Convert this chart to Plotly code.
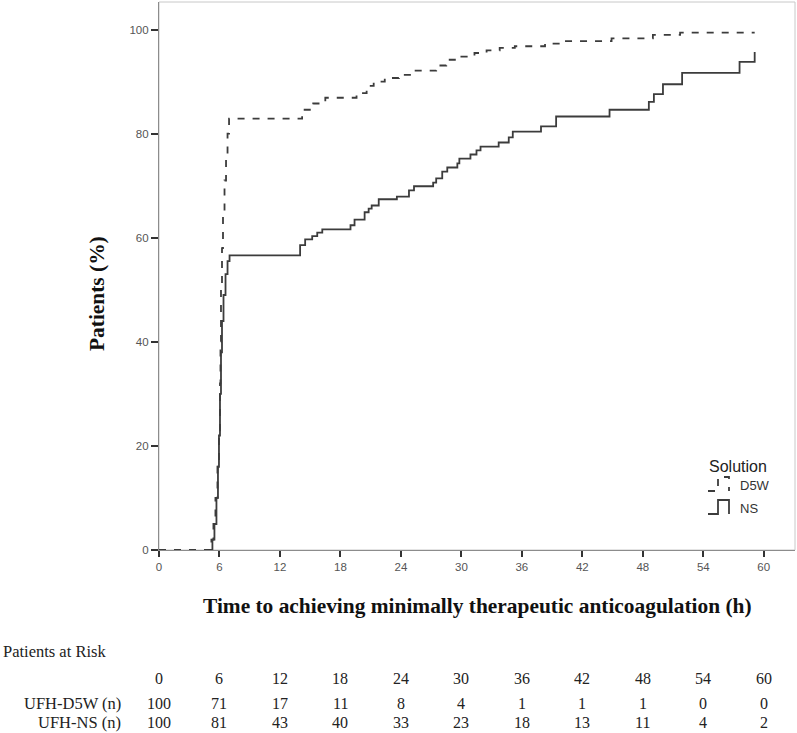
import plotly.graph_objects as go

# ---- data ----
time_d5w = [0, 4.9, 5.2, 5.4, 5.6, 5.8, 5.95, 6.05, 6.1, 6.15, 6.25, 6.35, 6.5, 6.65, 6.8, 6.95,
            14.2, 15.3, 16.5, 19.6, 20.6, 21.3, 22.4, 23.8, 25.1, 27.5, 28.5, 30.0, 31.3, 32.5,
            33.8, 35.3, 38.3, 39.8, 44.9, 49.0, 51.7, 59.1]
pct_d5w = [0, 0, 2, 5, 10, 16, 23, 32, 40, 50, 58, 65, 71, 76, 80, 82.9,
           84.6, 85.8, 86.9, 87.8, 89.2, 90.0, 90.7, 91.3, 92.1, 93.1, 94.2, 94.8, 95.5, 96.0,
           96.5, 96.8, 97.3, 97.8, 98.3, 99.0, 99.4, 99.4]

time_ns = [5.0, 5.3, 5.5, 5.7, 5.85, 5.95, 6.05, 6.15, 6.25, 6.4, 6.6, 6.8, 7.0,
           14.0, 14.5, 15.2, 15.7, 16.2, 19.0, 19.4, 20.4, 20.8, 21.1, 21.8, 23.6, 24.8, 25.3,
           27.2, 27.5, 28.1, 28.6, 29.6, 29.8, 30.9, 31.5, 31.9, 33.7, 34.7, 35.1, 37.9, 39.4,
           44.7, 48.6, 49.1, 50.0, 51.9, 57.6, 59.1]
pct_ns = [0, 2, 5, 10, 16, 22, 30, 38, 44, 49, 53, 55.5, 56.6,
          58.6, 59.7, 60.3, 61.0, 61.6, 62.4, 63.5, 64.9, 65.6, 66.2, 67.4, 67.9, 69.1, 69.9,
          70.6, 71.4, 72.7, 73.5, 74.3, 75.2, 76.0, 76.8, 77.5, 78.3, 79.3, 80.4, 81.4, 83.3,
          84.6, 86.1, 87.6, 89.5, 91.7, 93.8, 95.7]

series_names = ["D5W", "NS"]
legend_title = "Solution"
x_ticks = [0, 6, 12, 18, 24, 30, 36, 42, 48, 54, 60]
y_ticks = [0, 20, 40, 60, 80, 100]
risk_times = [0, 6, 12, 18, 24, 30, 36, 42, 48, 54, 60]
risk_d5w = [100, 71, 17, 11, 8, 4, 1, 1, 1, 0, 0]
risk_ns = [100, 81, 43, 40, 33, 23, 18, 13, 11, 4, 2]
row_labels = ["UFH-D5W (n)", "UFH-NS (n)"]

SERIF = "Times New Roman, Liberation Serif, serif"
SANS = "Arial, Liberation Sans, sans-serif"
LINE = "#3c3c3c"
DASH = "7px,8px"

# plot-area geometry in pixels (used only for layout decorations)
W, H = 797, 733
L, R, T, B = 159, 2, 2, 183
PW, PH = W - L - R, H - T - B


def px(xp):
    return (xp - L) / PW


def py(yp):
    return (H - B - yp) / PH


fig = go.Figure()
fig.add_trace(go.Scatter(x=time_d5w, y=pct_d5w, mode="lines", name=series_names[0],
                         line=dict(color=LINE, width=1.8, dash=DASH, shape="hv"),
                         showlegend=False))
fig.add_trace(go.Scatter(x=time_ns, y=pct_ns, mode="lines", name=series_names[1],
                         line=dict(color=LINE, width=1.8, shape="hv"), showlegend=False))

annotations = []
# axis titles
annotations.append(dict(text="<b>Time to achieving minimally therapeutic anticoagulation (h)</b>",
                        xref="paper", yref="paper", x=0.5, y=0, xanchor="center", yanchor="middle",
                        yshift=-56, showarrow=False, font=dict(family=SERIF, size=21.4, color="#111")))
annotations.append(dict(text="<b>Patients (%)</b>", xref="paper", yref="paper", x=0, y=0.5,
                        xanchor="center", yanchor="middle", xshift=-62, yshift=-18, textangle=-90,
                        showarrow=False, font=dict(family=SERIF, size=21.4, color="#111")))
# risk table
nfont = dict(family=SERIF, size=16, color="#222")
lfont = dict(family=SERIF, size=16.5, color="#222")
annotations.append(dict(text="Patients at Risk", xref="paper", yref="paper", x=0, y=0,
                        xanchor="left", yanchor="middle", xshift=-158, yshift=-101,
                        showarrow=False, font=lfont))
for t in risk_times:
    annotations.append(dict(text=str(t), xref="x", yref="paper", x=t, y=0, xanchor="center",
                            yanchor="middle", yshift=-128, showarrow=False, font=nfont))
for row, vals, ys in [(row_labels[0], risk_d5w, -153), (row_labels[1], risk_ns, -172)]:
    annotations.append(dict(text=row, xref="paper", yref="paper", x=0, y=0, xanchor="right",
                            yanchor="middle", xshift=-36, yshift=ys, showarrow=False, font=lfont))
    for t, v in zip(risk_times, vals):
        annotations.append(dict(text=str(v), xref="x", yref="paper", x=t, y=0, xanchor="center",
                                yanchor="middle", yshift=ys, showarrow=False, font=nfont))

# legend drawn as text + step-shaped icons (like the original)
annotations.append(dict(text=legend_title, xref="paper", yref="paper", x=px(707), y=py(466),
                        xanchor="left", yanchor="middle", showarrow=False,
                        font=dict(family=SANS, size=16, color="#222")))
shapes = [dict(type="rect", xref="paper", yref="paper", x0=0, x1=1, y0=0, y1=1,
               line=dict(color="#c8c8c8", width=1), layer="below")]
for name, ty, dash in [(series_names[0], 485, DASH), (series_names[1], 508, "solid")]:
    annotations.append(dict(text=name, xref="paper", yref="paper", x=px(738), y=py(ty),
                            xanchor="left", yanchor="middle", showarrow=False,
                            font=dict(family=SANS, size=13, color="#333")))
    yb, yt = ty + 6, ty - 8
    path = (f"M {px(708)},{py(yb)} L {px(718)},{py(yb)} L {px(718)},{py(yt)} "
            f"L {px(729)},{py(yt)} L {px(729)},{py(yb)}")
    shapes.append(dict(type="path", xref="paper", yref="paper", path=path,
                       line=dict(color=LINE, width=1.8, dash=dash)))

fig.update_layout(
    width=W, height=H,
    margin=dict(l=L, r=R, t=T, b=B),
    paper_bgcolor="white", plot_bgcolor="white",
    annotations=annotations,
    shapes=shapes,
    showlegend=False,
)
fig.update_xaxes(range=[0, 63.1], tickvals=x_ticks, showgrid=False, zeroline=False,
                 showline=True, linecolor="#8c8c8c", linewidth=1.2,
                 ticks="outside", ticklen=6, tickwidth=2, tickcolor="#333",
                 tickfont=dict(family=SANS, size=11.5, color="#555"))
fig.update_yaxes(range=[0, 105.3], tickvals=y_ticks, showgrid=False, zeroline=False,
                 showline=True, linecolor="#8c8c8c", linewidth=1.2,
                 ticks="outside", ticklen=7, tickwidth=2, tickcolor="#333",
                 tickfont=dict(family=SANS, size=11.5, color="#555"))

fig.write_html("out.html", config={"displayModeBar": False},
               post_script="document.body.style.margin='0';document.body.style.overflow='hidden';")
